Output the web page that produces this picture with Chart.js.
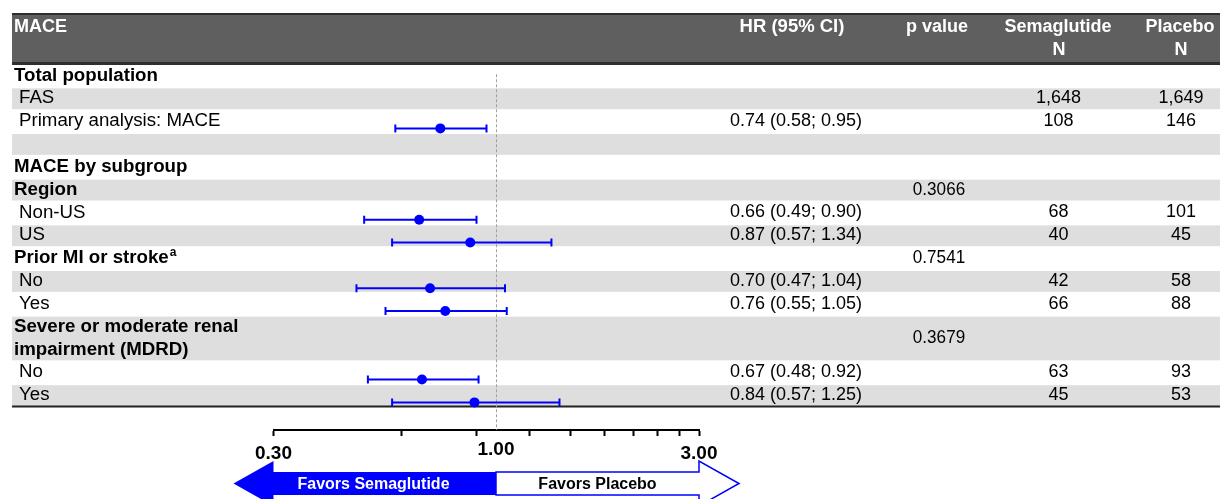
<!DOCTYPE html>
<html><head><meta charset="utf-8">
<script src="https://cdn.jsdelivr.net/npm/chart.js@4.4.1/dist/chart.umd.min.js"></script>
<style>html,body{margin:0;padding:0;background:#fff;overflow:hidden;} #wrap{width:1220px;height:499px;position:relative;}</style>
</head><body><div id="wrap"><canvas id="c"></canvas></div>
<script>
// ---- data ----
const rowLabels = ['Total population','FAS','Primary analysis: MACE','','MACE by subgroup','Region','Non-US','US','Prior MI or stroke','No','Yes',['Severe or moderate renal','impairment (MDRD)'],'No','Yes'];
const rowKinds = ['section','item','item','blank','section','section','item','item','section','item','item','section','item','item'];
const rowNotes = ['','','','','','','','','a','','','','',''];
const hrValues = [null,null,0.74,null,null,null,0.66,0.87,null,0.70,0.76,null,0.67,0.89];
const ciLower  = [null,null,0.58,null,null,null,0.49,0.57,null,0.47,0.55,null,0.50,0.57];
const ciUpper  = [null,null,0.95,null,null,null,0.90,1.35,null,1.05,1.06,null,0.91,1.41];
const hrText = ['','','0.74 (0.58; 0.95)','','','','0.66 (0.49; 0.90)','0.87 (0.57; 1.34)','','0.70 (0.47; 1.04)','0.76 (0.55; 1.05)','','0.67 (0.48; 0.92)','0.84 (0.57; 1.25)'];
const pValues = ['','','','','','0.3066','','','0.7541','','','0.3679','',''];
const semaN = ['','1,648','108','','','','68','40','','42','66','','63','45'];
const placN = ['','1,649','146','','','','101','45','','58','88','','93','53'];
const columnHeaders = ['MACE','HR (95% CI)','p value',['Semaglutide','N'],['Placebo','N']];
const xTicks = [0.3,0.6,0.9,1.0,1.2,1.5,1.8,2.1,2.4,2.7,3.0];
const labeledTicks = [0.3,1.0,3.0];
const tickLabelText = ['0.30','1.00','3.00'];
const favorLabels = ['Favors Semaglutide','Favors Placebo'];

// ---- layout helpers ----
const FONT = '"Liberation Sans", Arial, sans-serif';
const rowSpan = rowLabels.map(l => Array.isArray(l) ? l.length : 1);
const rowStart = []; { let s = 0; rowSpan.forEach((n,i)=>{ rowStart.push(s); s += n; }); }
const totalUnits = rowSpan.reduce((a,b)=>a+b,0);
const BLUE = '#0000ff';

const datasets = [];
hrValues.forEach((v,i)=>{
  if (v === null) return;
  const y = rowStart[i] + 0.82;
  datasets.push({
    type:'scatter', showLine:true, data:[{x:ciLower[i],y},{x:ciUpper[i],y}],
    borderColor:BLUE, borderWidth:2, pointStyle:'line', pointRotation:90,
    pointRadius:4, pointBorderWidth:2, pointBorderColor:BLUE, pointHoverRadius:4
  });
});
datasets.push({
  type:'scatter',
  data: hrValues.map((v,i)=> v===null?null:{x:v,y:rowStart[i]+0.82}).filter(p=>p),
  pointRadius:5, pointHoverRadius:5, backgroundColor:BLUE, borderColor:BLUE, borderWidth:0
});

function txt(ctx, s, x, y, opts){
  ctx.save();
  ctx.font = (opts.weight||'normal') + ' ' + opts.size + 'px ' + FONT;
  ctx.fillStyle = opts.color || '#000';
  ctx.textBaseline = 'middle';
  const sx = opts.sx || 1;
  const w = ctx.measureText(s).width * sx;
  let left = x;
  if (opts.align === 'center') left = x - w/2;
  else if (opts.align === 'right') left = x - w;
  ctx.translate(left, y);
  ctx.scale(sx, 1);
  ctx.textAlign = 'left';
  ctx.fillText(s, 0, 0);
  ctx.restore();
  return w;
}

const tablePlugin = {
  id:'table',
  beforeDraw(chart){
    const ctx = chart.ctx, ys = chart.scales.y;
    ctx.save();
    ctx.fillStyle = '#fff'; ctx.fillRect(0,0,chart.width,chart.height);
    // header
    ctx.fillStyle = '#5f5f5f'; ctx.fillRect(12,14,1208,50);
    ctx.fillStyle = '#2e2e2e'; ctx.fillRect(12,13,1208,2); ctx.fillRect(12,62,1208,3);
    // stripes
    rowLabels.forEach((l,i)=>{
      if (i % 2 === 1) {
        const y0 = ys.getPixelForValue(rowStart[i]), y1 = ys.getPixelForValue(rowStart[i]+rowSpan[i]);
        ctx.fillStyle = '#dedede';
        ctx.fillRect(12, y0+1.5, 1208, y1-y0-2);
      }
    });
    const yb = ys.getPixelForValue(totalUnits);
    ctx.fillStyle = '#222'; ctx.fillRect(12, yb-1, 1208, 2);
    ctx.restore();
    // header text
    const hs = {weight:'bold', size:18, color:'#fff'};
    txt(ctx, columnHeaders[0], 14, 27, Object.assign({align:'left'},hs));
    txt(ctx, columnHeaders[1], 792, 27, Object.assign({align:'center', size:18.5},{weight:'bold', color:'#fff'}));
    txt(ctx, columnHeaders[2], 937, 27, Object.assign({align:'center'},hs));
    txt(ctx, columnHeaders[3][0], 1058, 27, Object.assign({align:'center'},hs));
    txt(ctx, columnHeaders[3][1], 1059, 50, Object.assign({align:'center'},hs));
    txt(ctx, columnHeaders[4][0], 1180, 27, Object.assign({align:'center'},hs));
    txt(ctx, columnHeaders[4][1], 1181, 50, Object.assign({align:'center'},hs));
    // rows
    rowLabels.forEach((l,i)=>{
      const lines = Array.isArray(l) ? l : [l];
      const bold = rowKinds[i] === 'section';
      lines.forEach((s,k)=>{
        const yc = ys.getPixelForValue(rowStart[i]+k+0.5);
        const w = txt(ctx, s, bold?14:19, yc, {weight:bold?'bold':'normal', size:18.7, align:'left'});
        if (k === lines.length-1 && rowNotes[i]) {
          txt(ctx, rowNotes[i], 14 + w + 1, yc-5, {weight:'bold', size:12, align:'left'});
        }
      });
      const ym = ys.getPixelForValue(rowStart[i]+rowSpan[i]/2);
      if (hrText[i]) txt(ctx, hrText[i], 796, ym, {size:18, align:'center'});
      if (pValues[i]) txt(ctx, pValues[i], 939, ym, {size:18, align:'center', sx:0.95});
      if (semaN[i]) txt(ctx, semaN[i], 1058.5, ym, {size:18, align:'center'});
      if (placN[i]) txt(ctx, placN[i], 1181, ym, {size:18, align:'center'});
    });
  },
  beforeDatasetsDraw(chart){
    const ctx = chart.ctx, xs = chart.scales.x, ys = chart.scales.y;
    const x = Math.round(xs.getPixelForValue(1)) + 0.5;
    ctx.save();
    ctx.strokeStyle = '#a0a0a0'; ctx.lineWidth = 1; ctx.setLineDash([3,2]);
    ctx.beginPath(); ctx.moveTo(x, ys.getPixelForValue(0.45)); ctx.lineTo(x, chart.chartArea.bottom); ctx.stroke();
    ctx.restore();
  },
  afterDraw(chart){
    const ctx = chart.ctx, xs = chart.scales.x;
    const x0 = xs.getPixelForValue(0.3), x1 = xs.getPixelForValue(1), x3 = xs.getPixelForValue(3);
    const cy = 483.5, bh = 11.5, hh = 22.5, hw = 40;
    ctx.save();
    ctx.fillStyle = BLUE;
    ctx.beginPath();
    ctx.moveTo(x1, cy-bh); ctx.lineTo(x0, cy-bh); ctx.lineTo(x0, cy-hh); ctx.lineTo(x0-hw, cy);
    ctx.lineTo(x0, cy+hh); ctx.lineTo(x0, cy+bh); ctx.lineTo(x1, cy+bh); ctx.closePath(); ctx.fill();
    ctx.fillStyle = '#fff'; ctx.strokeStyle = BLUE; ctx.lineWidth = 1.5;
    ctx.beginPath();
    ctx.moveTo(x1, cy-bh); ctx.lineTo(x3, cy-bh); ctx.lineTo(x3, cy-hh); ctx.lineTo(x3+hw, cy);
    ctx.lineTo(x3, cy+hh); ctx.lineTo(x3, cy+bh); ctx.lineTo(x1, cy+bh); ctx.closePath(); ctx.fill(); ctx.stroke();
    ctx.restore();
    txt(ctx, favorLabels[0], x0+100, cy+1, {weight:'bold', size:16, color:'#fff', align:'center'});
    txt(ctx, favorLabels[1], (x1+x3)/2, cy+1, {weight:'bold', size:16, color:'#000', align:'center'});
  }
};

Chart.defaults.font.family = FONT;
new Chart(document.getElementById('c'), {
  type:'scatter',
  data:{datasets},
  plugins:[tablePlugin],
  options:{
    responsive:true, maintainAspectRatio:false, animation:false, events:[],
    layout:{padding:{left:273.5, right:1220-699, top:64, bottom:0}},
    plugins:{legend:{display:false}, tooltip:{enabled:false}},
    scales:{
      x:{
        type:'logarithmic', min:0.3, max:3, position:'bottom', bounds:'data',
        afterBuildTicks: s => { s.ticks = xTicks.map(v=>({value:v})); },
        afterFit: s => { s.height = 69; },
        grid:{drawOnChartArea:false, drawTicks:true, tickLength:6, tickWidth:2,
              tickColor: c => (c.tick && c.tick.value === 1) ? 'rgba(0,0,0,0)' : '#000'},
        border:{display:true, color:'#000', width:2},
        ticks:{autoSkip:false, maxRotation:0, padding:3, color:'#000',
          font: c => ({family:FONT, size:19, weight:'bold', lineHeight:(c.tick && c.tick.value === 1) ? 1.15 : 1.6}),
          callback: v => { const i = labeledTicks.indexOf(v); return i >= 0 ? tickLabelText[i] : ''; }
        }
      },
      y:{type:'linear', reverse:true, min:0, max: totalUnits*(430-64)/(406.5-64), display:false}
    }
  }
});
</script>
</body></html>
